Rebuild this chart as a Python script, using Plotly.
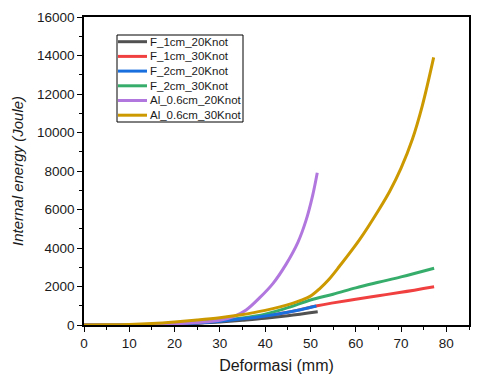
import plotly.graph_objects as go

# Data
names = ['F_1cm_20Knot', 'F_1cm_30Knot', 'F_2cm_20Knot', 'F_2cm_30Knot',
         'Al_0.6cm_20Knot', 'Al_0.6cm_30Knot']
colors = ['#515151', '#F14040', '#1A6FDF', '#37AD6B', '#B177DE', '#CC9900']

f1_20_x = [0, 10, 15, 20, 25, 30, 35, 40, 45, 51.6]
f1_20_y = [0, 5, 15, 40, 90, 160, 250, 350, 480, 690]

f1_30_x = [0, 10, 15, 20, 25, 30, 35, 40, 45, 51.5, 55, 60, 65, 70, 77.3]
f1_30_y = [0, 5, 20, 50, 110, 200, 320, 470, 660, 1000, 1150, 1340, 1520, 1700, 1990]

f2_20_x = [0, 10, 15, 20, 25, 30, 35, 40, 45, 51.3]
f2_20_y = [0, 5, 20, 50, 110, 200, 320, 470, 660, 990]

f2_30_x = [0, 10, 15, 20, 25, 30, 35, 40, 45, 50, 55, 60, 65, 70, 77.3]
f2_30_y = [0, 8, 25, 60, 130, 230, 360, 560, 900, 1300, 1600, 1930, 2220, 2500, 2950]

al_20_x = [0, 10, 15, 20, 25, 30, 33, 35.8, 38.8, 41.7, 44.6, 47.2, 49, 50.5, 51.5]
al_20_y = [0, 5, 20, 60, 130, 250, 430, 780, 1420, 2150, 3150, 4280, 5420, 6750, 7910]

al_30_x = [0, 5, 10, 15, 20, 25, 30, 34.4, 40, 46, 48, 50, 52, 54, 56.4, 60.8,
           65, 67.5, 70, 72.5, 74.7, 77.2]
al_30_y = [0, 10, 30, 80, 160, 260, 380, 520, 760, 1120, 1290, 1500, 1880, 2350,
           3050, 4420, 5950, 6950, 8150, 9650, 11400, 13900]

series = [(f1_20_x, f1_20_y), (f1_30_x, f1_30_y), (f2_20_x, f2_20_y),
          (f2_30_x, f2_30_y), (al_20_x, al_20_y), (al_30_x, al_30_y)]

# draw order: gold on top like the reference
order = [1, 3, 0, 2, 4, 5]

fig = go.Figure()
for i in order:
    xs, ys = series[i]
    fig.add_trace(go.Scatter(
        x=xs, y=ys, name=names[i], mode='lines',
        line=dict(color=colors[i], width=3, shape='spline', smoothing=1.0),
        showlegend=False
    ))

# plot area in page pixels; the page body has an 8px default margin
OFF = 8
L, R, T, B = 84, 469, 17, 325
def px(x):
    return (x - L) / (R - L)
def py(y):
    return (B - y) / (B - T)

# Origin-style compact legend, built in paper coordinates
fig.add_shape(type='rect', xref='paper', yref='paper',
              x0=px(117), x1=px(243), y0=py(122), y1=py(35),
              line=dict(color='black', width=1), fillcolor='white', layer='above')
for k, name in enumerate(names):
    yc = 41.7 + k * 14.7
    fig.add_shape(type='line', xref='paper', yref='paper',
                  x0=px(118), x1=px(147), y0=py(yc), y1=py(yc),
                  line=dict(color=colors[k], width=3), layer='above')
    fig.add_annotation(x=px(148), y=py(yc), xref='paper', yref='paper',
                       text=name, showarrow=False, xanchor='left', yanchor='middle',
                       font=dict(size=11.5, color='#1a1a1a'))

axis_common = dict(
    showline=True, linecolor='black', linewidth=1.5, mirror=True,
    ticks='outside', ticklen=5, tickwidth=1.2, tickcolor='black',
    showgrid=False, zeroline=False, automargin=False, tickformat='d',
    tickfont=dict(family='Liberation Sans, Arial', size=13.5, color='#1a1a1a'),
)

fig.update_layout(
    width=480 - OFF, height=383 - OFF,
    margin=dict(l=L - OFF, r=480 - R, t=T - OFF, b=383 - B),
    paper_bgcolor='white', plot_bgcolor='white',
    font=dict(family='Liberation Sans, Arial', color='#1a1a1a'),
    xaxis=dict(range=[0, 85], dtick=10,
               minor=dict(ticks='outside', dtick=5, ticklen=3, tickcolor='black'),
               title=dict(text='Deformasi (mm)', font=dict(size=16), standoff=10),
               **axis_common),
    yaxis=dict(range=[0, 16000], dtick=2000,
               minor=dict(ticks='outside', dtick=1000, ticklen=3, tickcolor='black'),
               title=dict(text='<i>Internal energy (Joule)</i>', font=dict(size=15), standoff=10),
               **axis_common),
    showlegend=False,
)

fig.write_html("out.html")
